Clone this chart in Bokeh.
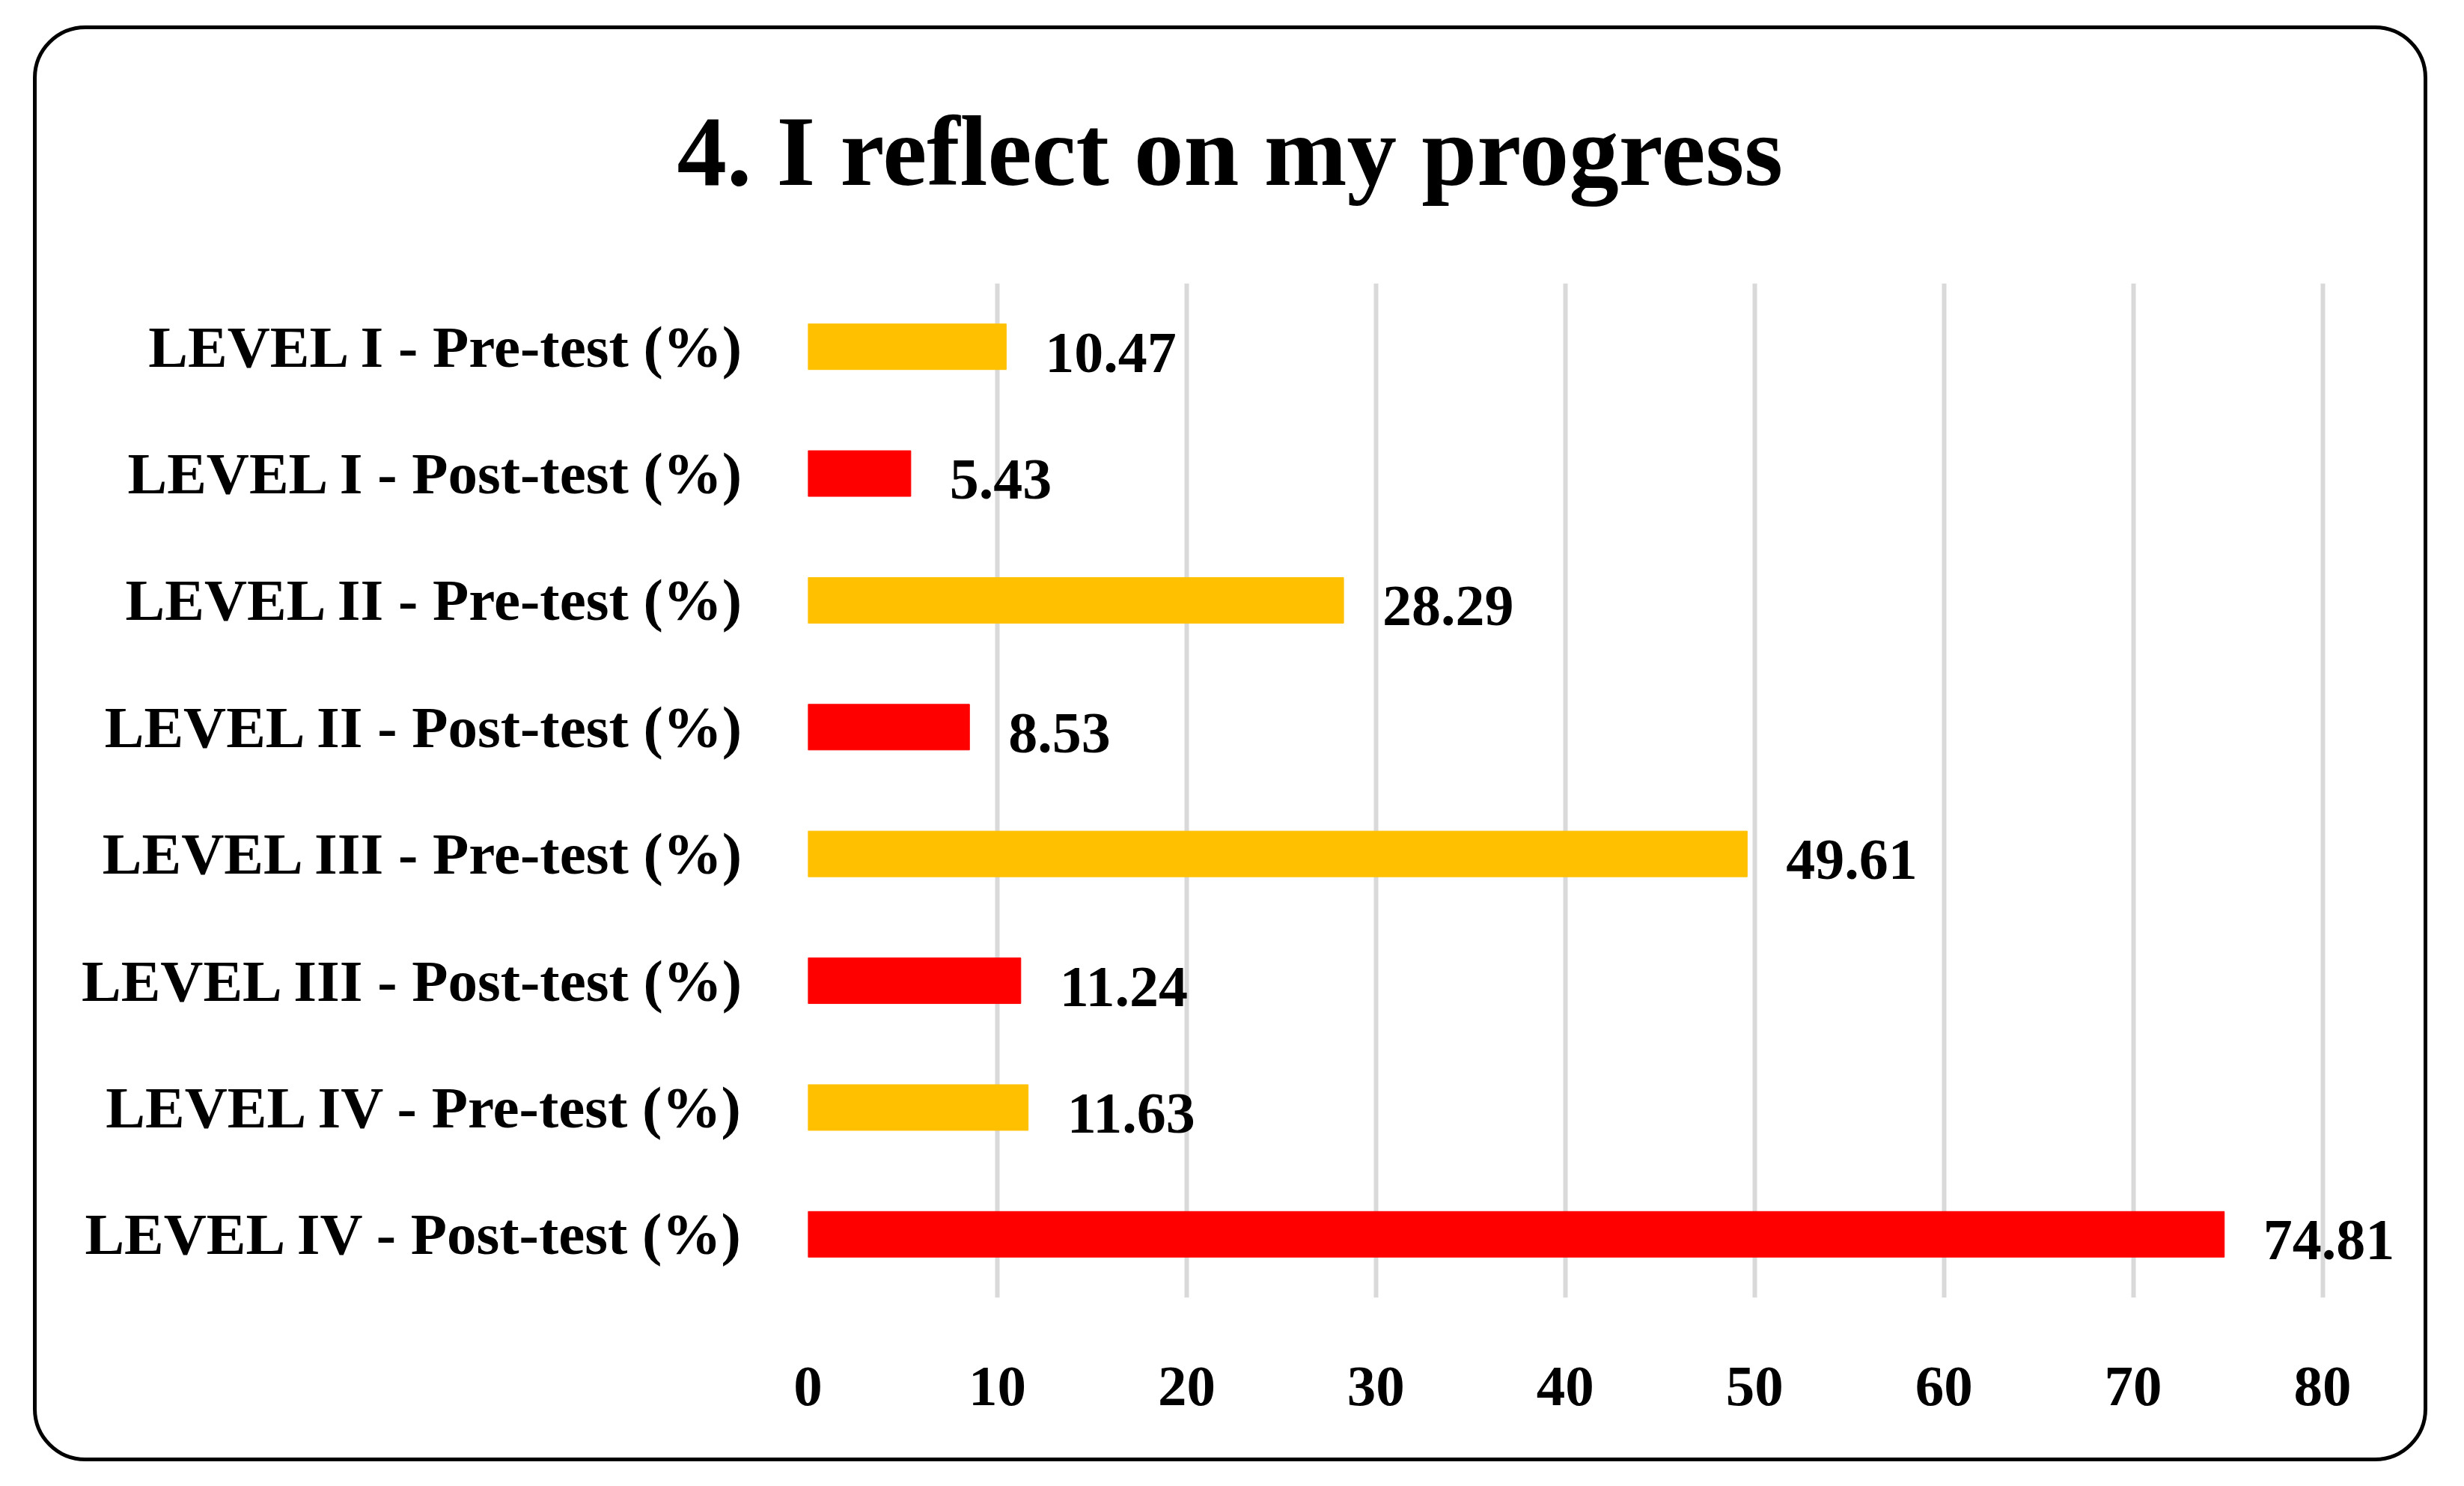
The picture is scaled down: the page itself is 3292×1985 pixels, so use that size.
from bokeh.plotting import figure
from bokeh.models import FactorRange, Range1d, FixedTicker, Title, ColumnDataSource, InlineStyleSheet
from bokeh.core.properties import value
from bokeh.embed import file_html
from bokeh.resources import INLINE

title_text = "4. I reflect on my progress"
categories = [
    "LEVEL I - Pre-test (%)",
    "LEVEL I - Post-test (%)",
    "LEVEL II - Pre-test (%)",
    "LEVEL II - Post-test (%)",
    "LEVEL III - Pre-test (%)",
    "LEVEL III - Post-test (%)",
    "LEVEL IV - Pre-test (%)",
    "LEVEL IV - Post-test (%)",
]
values = [10.47, 5.43, 28.29, 8.53, 49.61, 11.24, 11.63, 74.81]
series = ["Pre", "Post", "Pre", "Post", "Pre", "Post", "Pre", "Post"]
series_colors = {"Pre": "#FFC000", "Post": "#FF0000"}
x_ticks = [0, 10, 20, 30, 40, 50, 60, 70, 80]

FONT = "Liberation Serif"

src = ColumnDataSource(dict(
    cat=categories,
    val=values,
    color=[series_colors[s] for s in series],
    lab=["%.2f" % v for v in values],
))

W, H = 3276, 1969
p = figure(
    width=W, height=H,
    y_range=FactorRange(factors=list(reversed(categories))),
    x_range=Range1d(0, 85),
    output_backend="svg", toolbar_location=None,
    min_border_left=1079, min_border_right=47,
    min_border_top=378, min_border_bottom=236,
)
p.outline_line_color = None
p.background_fill_color = "white"
p.border_fill_color = "white"

p.hbar(y="cat", right="val", left=0, height=0.36, color="color", source=src)
p.text(x="val", y="cat", text="lab", source=src, x_offset=52, y_offset=8,
       text_baseline="middle", text_align="left",
       text_font=value(FONT), text_font_style="bold", text_font_size="78px",
       text_color="black")

p.xaxis.ticker = FixedTicker(ticks=x_ticks)
p.xgrid.ticker = FixedTicker(ticks=x_ticks)
p.xgrid.grid_line_color = "#D9D9D9"
p.xgrid.grid_line_width = 6
p.ygrid.grid_line_color = None

for ax in (p.xaxis[0], p.yaxis[0]):
    ax.axis_line_color = None
    ax.major_tick_line_color = None
    ax.minor_tick_line_color = None
    ax.major_tick_out = 0
    ax.major_tick_in = 0
    ax.major_label_text_font = FONT
    ax.major_label_text_font_style = "bold"
    ax.major_label_text_color = "black"
p.xaxis.major_label_text_font_size = "77px"
p.yaxis.major_label_text_font_size = "79px"
p.xaxis.major_label_standoff = 93
p.yaxis.major_label_standoff = 84

p.add_layout(Title(text=title_text, align="left", offset=-175, standoff=206,
                   text_font=FONT, text_font_style="bold", text_font_size="133px",
                   text_color="black"), "above")

p.stylesheets = [InlineStyleSheet(css="""
:host { position: relative; }
:host::after {
  content: "";
  position: absolute;
  left: 44px; top: 34px;
  width: 3199px; height: 1918px;
  box-sizing: border-box;
  border: 5px solid black;
  border-radius: 70px;
  pointer-events: none;
}
""")]

open("out.html", "w").write(file_html(p, INLINE))
